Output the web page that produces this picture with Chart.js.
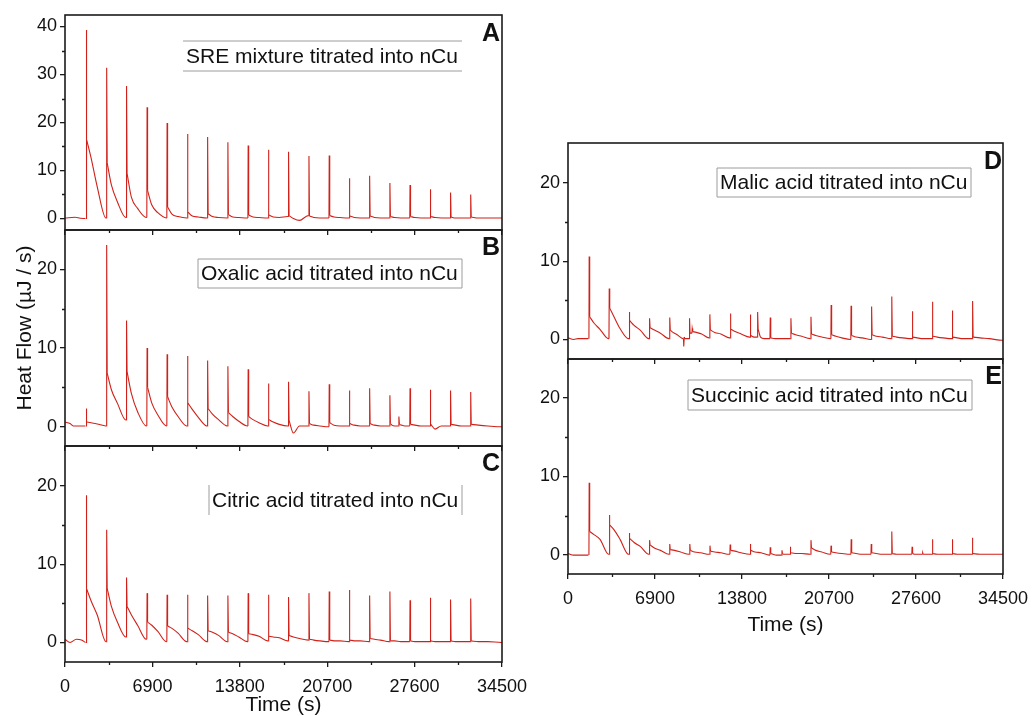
<!DOCTYPE html>
<html>
<head>
<meta charset="utf-8">
<script src="https://cdn.jsdelivr.net/npm/chart.js@4"></script>
<style>
  body { margin: 0; background: #fff; }
  #wrap { position: relative; width: 1034px; height: 716px; }
  #wrap canvas { position: absolute; left: 0; top: 0; pointer-events: none; }
</style>
</head>
<body>
<div id="wrap">
  <canvas id="panelA" width="1034" height="716"></canvas>
  <canvas id="panelB" width="1034" height="716"></canvas>
  <canvas id="panelC" width="1034" height="716"></canvas>
  <canvas id="panelD" width="1034" height="716"></canvas>
  <canvas id="panelE" width="1034" height="716"></canvas>
</div>
<script>
// x axis (time, s) - same for every panel
const xMax = 34500;
const xTickLabels = [0, 6900, 13800, 20700, 27600, 34500];
const yTickLabelsA = [0, 10, 20, 30, 40];
const yTickLabels = [0, 10, 20];

// A: SRE mixture titrated into nCu
const aPreT = [0, 800, 1200, 1620];
const aPreY = [0.1, 0.25, 0.05, 0.0];
const aT = [1660, 3270, 4840, 6460, 8040, 9650, 11240, 12840, 14440, 16040, 17630, 19240, 20840, 22430, 24030, 25630, 27220, 28820, 30420, 32010];
const aPeak = [39.3, 31.4, 27.6, 23.2, 19.9, 17.6, 17.0, 15.9, 15.2, 14.3, 13.9, 13.0, 13.1, 8.4, 8.9, 7.4, 7.0, 6.1, 5.4, 5.0];
const aTail = [16.3, 11.6, 9.4, 5.8, 2.4, 1.3, 1.0, 0.8, 0.7, 0.7, 0.6, 0.5, 0.6, 0.5, 0.5, 0.4, 0.4, 0.4, 0.3, 0.3];
const aMid1 = [12.6, 7.0, 4.4, 2.8, 0.9, 0.5, 0.4, 0.3, 0.3, 0.3, 0.0, 0.2, 0.3, 0.2, 0.2, 0.2, 0.2, 0.2, 0.1, 0.1];
const aMid2 = [6.6, 3.5, 2.1, 1.2, 0.4, 0.3, 0.2, 0.2, 0.2, 0.2, -0.4, 0.1, 0.2, 0.1, 0.1, 0.1, 0.1, 0.1, 0.1, 0.1];
const aEnd = [0.1, 0.2, 0.2, 0.1, 0.1, 0.1, 0.1, 0.1, 0.1, 0.4, 0.6, 0.1, 0.1, 0.1, 0.1, 0.1, 0.1, 0.1, 0.1, 0.1];

// B: Oxalic acid titrated into nCu
const bPreT = [0, 400, 650, 1620];
const bPreY = [0.6, 0.4, 0.1, 0.1];
const bT = [1660, 3270, 4840, 6460, 8040, 9650, 11240, 12840, 14440, 16040, 17630, 19240, 20840, 22430, 24030, 25630, 26340, 27220, 28820, 30420, 32010];
const bPeak = [2.3, 23.1, 13.5, 10.0, 9.2, 9.0, 8.4, 7.7, 7.3, 5.5, 5.7, 4.5, 5.4, 4.6, 4.9, 4.0, 1.3, 4.9, 4.7, 4.6, 4.4];
const bTail = [0.6, 6.8, 7.0, 5.0, 3.8, 3.0, 2.3, 1.8, 1.3, 0.9, 0.8, 0.4, 0.5, 0.4, 0.4, 0.4, 0.3, 0.3, 0.3, 0.3, 0.3];
const bMid1 = [0.5, 4.7, 4.2, 3.0, 2.5, 2.2, 1.6, 1.3, 0.9, 0.6, -0.8, 0.2, 0.2, 0.2, 0.2, 0.2, 0.2, 0.2, -0.3, 0.2, 0.2];
const bMid2 = [0.35, 3.0, 1.9, 1.5, 1.3, 1.2, 0.9, 0.7, 0.5, 0.3, 0.1, 0.1, 0.1, 0.1, 0.1, 0.1, 0.1, 0.1, 0.1, 0.1, 0.1];
const bEnd = [0.1, 0.85, 0.1, 0.1, 0.1, 0.1, 0.1, 0.1, 0.1, 0.1, 0.1, 0.0, 0.1, 0.1, 0.1, 0.1, 0.1, 0.1, 0.1, 0.1, 0.0];

// C: Citric acid titrated into nCu
const cPreT = [0, 400, 900, 1300, 1620];
const cPreY = [0.4, 0.0, 0.4, 0.3, 0.0];
const cT = [1660, 3270, 4840, 6460, 8040, 9650, 11240, 12840, 14440, 16040, 17630, 19240, 20840, 22430, 24030, 25630, 27220, 28820, 30420, 32010];
const cPeak = [18.8, 14.4, 8.3, 6.3, 6.1, 6.1, 6.0, 6.0, 6.3, 6.1, 5.8, 6.3, 6.5, 6.7, 6.0, 6.5, 5.4, 5.7, 5.5, 5.6];
const cTail = [6.8, 6.9, 4.6, 2.6, 2.1, 1.8, 1.5, 1.3, 1.1, 0.8, 0.9, 0.4, 0.3, 0.3, 0.5, 0.2, 0.2, 0.2, 0.2, 0.2];
const cMid1 = [5.3, 4.6, 3.5, 2.2, 1.8, 1.5, 1.3, 1.1, 1.0, 0.7, 0.7, 0.3, 0.2, 0.2, 0.4, 0.2, 0.1, 0.1, 0.1, 0.1];
const cMid2 = [3.5, 2.6, 2.2, 1.4, 1.2, 1.0, 0.9, 0.7, 0.8, 0.6, 0.5, 0.2, 0.2, 0.2, 0.3, 0.1, 0.1, 0.1, 0.1, 0.1];
const cEnd = [0.1, 0.7, 0.4, 0.1, 0.1, 0.1, 0.1, 0.1, 0.2, 0.2, 0.3, 0.1, 0.1, 0.1, 0.1, 0.1, 0.1, 0.1, 0.1, 0.0];

// D: Malic acid titrated into nCu
const dPreT = [0, 450, 800, 1620];
const dPreY = [0.2, 0.0, 0.1, 0.1];
const dT = [1660, 3250, 4840, 6450, 8050, 9160, 9620, 9830, 11230, 12860, 14440, 15020, 16020, 17660, 19250, 20850, 22430, 24060, 25660, 27290, 28880, 30460, 32070];
const dPeak = [10.6, 6.5, 3.5, 2.7, 2.8, -0.9, 2.7, 1.4, 3.2, 3.3, 3.2, 3.5, 2.8, 2.7, 2.9, 4.4, 4.3, 4.2, 5.5, 3.6, 4.8, 3.7, 4.9];
const dTail = [2.9, 4.0, 2.4, 1.5, 1.2, 0.3, 0.8, 1.0, 1.2, 1.3, 0.5, 1.3, 0.2, 0.8, 0.7, 0.6, 0.5, 0.6, 0.4, 0.3, 0.4, 0.3, 0.3];
const dMid1 = [2.1, 2.9, 1.8, 1.2, 0.9, 0.1, 0.8, 0.9, 0.9, 1.0, 0.4, 0.3, 0.1, 0.6, 0.5, 0.4, 0.3, 0.4, 0.3, 0.2, 0.3, 0.2, 0.2];
const dMid2 = [1.3, 1.4, 1.2, 0.8, 0.6, 0.1, 0.8, 0.7, 0.7, 0.7, 0.3, 0.1, 0.1, 0.4, 0.3, 0.2, 0.2, 0.3, 0.2, 0.1, 0.2, 0.1, 0.1];
const dEnd = [0.1, 0.1, 0.1, 0.1, 0.1, 0.1, 0.8, 0.2, 0.2, 0.3, 0.3, 0.1, 0.1, 0.1, 0.1, 0.0, 0.0, 0.1, 0.1, 0.1, 0.1, 0.1, -0.1];

// E: Succinic acid titrated into nCu
const ePreT = [0, 450, 1620];
const ePreY = [0.2, 0.0, 0.0];
const eT = [1660, 3260, 4840, 6450, 8050, 9640, 11240, 12840, 14440, 16020, 16950, 17610, 19250, 20840, 22440, 24030, 25660, 27270, 28110, 28880, 30460, 32050];
const ePeak = [9.2, 5.1, 2.8, 1.9, 1.4, 1.4, 1.2, 1.35, 1.4, 1.0, 0.6, 1.05, 1.9, 1.2, 2.0, 1.4, 3.0, 1.05, 0.3, 2.0, 2.0, 2.2];
const eTail = [3.0, 3.8, 2.1, 1.3, 0.7, 0.6, 0.5, 0.6, 0.6, 0.2, 0.2, 0.3, 0.9, 0.4, 0.3, 0.3, 0.2, 0.2, 0.1, 0.2, 0.2, 0.2];
const eMid1 = [2.6, 3.2, 1.6, 0.9, 0.6, 0.4, 0.4, 0.5, 0.4, 0.1, 0.1, 0.2, 0.6, 0.3, 0.2, 0.2, 0.1, 0.1, 0.1, 0.1, 0.1, 0.1];
const eMid2 = [2.0, 2.0, 1.1, 0.6, 0.4, 0.3, 0.3, 0.3, 0.3, 0.0, 0.1, 0.2, 0.4, 0.2, 0.1, 0.1, 0.1, 0.1, 0.1, 0.1, 0.1, 0.1];
const eEnd = [0.1, 0.1, 0.1, 0.1, 0.1, 0.1, 0.1, 0.1, 0.0, 0.0, 0.1, 0.1, 0.1, 0.1, 0.1, 0.1, 0.1, 0.1, 0.1, 0.1, 0.1, 0.1];

const W = 1034, H = 716;
const lineRed = '#cf2119';
const axisColor = '#1b1b1b';
const fontFamily = '"Liberation Sans", Arial, Helvetica, sans-serif';

// spikes: straight up to the peak and down to the tail level (null splits the injections)
function spikes(preY, t, peak, tail, end) {
    const pts = [];
    for (let i = 0; i < t.length; i++) {
        const before = i === 0 ? preY[preY.length - 1] : end[i - 1];
        pts.push({ x: t[i], y: before }, { x: t[i] + 20, y: peak[i] }, { x: t[i] + 60, y: tail[i] }, { x: t[i] + 61, y: null });
    }
    return pts;
}

// decays: baseline, then tail -> readings -> level before the next injection
function decays(preT, preY, t, tail, mid1, mid2, end) {
    const pts = preT.map((x, i) => ({ x: x, y: preY[i] }));
    pts.push({ x: t[0] - 1, y: null });
    for (let i = 0; i < t.length; i++) {
        const next = i + 1 < t.length ? t[i + 1] : xMax;
        const gap = next - t[i];
        pts.push({ x: t[i] + 60, y: tail[i] });
        pts.push({ x: t[i] + gap * 0.25, y: mid1[i] });
        pts.push({ x: t[i] + gap * 0.55, y: mid2[i] });
        pts.push({ x: next - 40, y: end[i] });
        pts.push({ x: next, y: end[i] });
        pts.push({ x: next + 1, y: null });
    }
    return pts;
}

// frame, short minor ticks, note box, panel letter and axis titles
const panelDecor = {
    id: 'panelDecor',
    afterDatasetsDraw(chart, args, o) {
        const { ctx, chartArea: a, scales } = chart;
        ctx.save();
        ctx.strokeStyle = axisColor;
        ctx.lineWidth = 1.3;
        ctx.beginPath();
        scales.x.ticks.forEach((tk) => {
            if (o.xMajor.includes(tk.value)) return;
            const px = Math.round(scales.x.getPixelForValue(tk.value)) + 0.5;
            ctx.moveTo(px, a.bottom);
            ctx.lineTo(px, a.bottom + 3);
        });
        scales.y.ticks.forEach((tk) => {
            if (o.yMajor.includes(tk.value)) return;
            const py = Math.round(scales.y.getPixelForValue(tk.value)) + 0.5;
            ctx.moveTo(a.left, py);
            ctx.lineTo(a.left - 3, py);
        });
        ctx.stroke();

        ctx.lineWidth = 1.6;
        ctx.strokeRect(a.left, a.top, a.right - a.left, a.bottom - a.top);

        const [x1, y1, x2, y2] = o.box;
        ctx.strokeStyle = '#9c9c9c';
        ctx.lineWidth = 1;
        ctx.beginPath();
        if (o.sides.includes('t')) { ctx.moveTo(x1, y1); ctx.lineTo(x2, y1); }
        if (o.sides.includes('b')) { ctx.moveTo(x1, y2); ctx.lineTo(x2, y2); }
        if (o.sides.includes('l')) { ctx.moveTo(x1, y1); ctx.lineTo(x1, y2); }
        if (o.sides.includes('r')) { ctx.moveTo(x2, y1); ctx.lineTo(x2, y2); }
        ctx.stroke();

        ctx.fillStyle = '#111';
        ctx.font = '21px ' + fontFamily;
        ctx.textAlign = 'left';
        ctx.textBaseline = 'middle';
        ctx.fillText(o.note, x1 + 3, (y1 + y2) / 2 + 1);

        ctx.font = 'bold 25px ' + fontFamily;
        ctx.textAlign = 'right';
        ctx.fillText(o.letter, o.letterAt[0], o.letterAt[1]);

        ctx.font = '21px ' + fontFamily;
        ctx.textAlign = 'center';
        (o.titles || []).forEach((tt) => {
            ctx.save();
            ctx.translate(tt.x, tt.y);
            if (tt.rotate) ctx.rotate(-Math.PI / 2);
            ctx.fillText(tt.text, 0, 0);
            ctx.restore();
        });
        ctx.restore();
    }
};

function makePanel(id, area, yMin, yMax, yLabels, spikePts, decayPts, showX, xH, decor) {
    const yTicks = [];
    for (let v = 0; v <= yLabels[yLabels.length - 1]; v += 5) yTicks.push(v);
    const xTicks = [];
    for (let v = 0; v <= xMax; v += xTickLabels[1] / 2) xTicks.push(v);
    const tickFont = { family: fontFamily, size: 18 };
    const majorOnly = (labels) => (c) => (c.tick && labels.includes(c.tick.value)) ? axisColor : 'rgba(0,0,0,0)';
    const gridFor = (labels) => ({
        drawOnChartArea: false, drawTicks: true, tickLength: 5,
        color: axisColor, tickColor: majorOnly(labels), lineWidth: 1.3
    });
    decor.xMajor = xTickLabels;
    decor.yMajor = yLabels;

    new Chart(document.getElementById(id), {
        type: 'line',
        data: {
            datasets: [
                { data: decayPts, borderColor: lineRed, borderWidth: 1.1, pointRadius: 0, cubicInterpolationMode: 'monotone', spanGaps: false, fill: false },
                { data: spikePts, borderColor: lineRed, borderWidth: 1.1, pointRadius: 0, tension: 0, spanGaps: false, fill: false }
            ]
        },
        options: {
            responsive: false,
            animation: false,
            devicePixelRatio: 1,
            layout: {
                padding: { left: area.l - 60, top: area.t, right: W - area.r, bottom: H - area.b - xH }
            },
            plugins: {
                legend: { display: false },
                tooltip: { enabled: false },
                panelDecor: decor
            },
            scales: {
                x: {
                    type: 'linear',
                    min: 0,
                    max: xMax,
                    afterBuildTicks: (s) => { s.ticks = xTicks.map((v) => ({ value: v })); },
                    afterFit: (s) => { s.height = xH; s.paddingLeft = 0; s.paddingRight = 0; },
                    ticks: {
                        display: showX,
                        autoSkip: false,
                        maxRotation: 0,
                        padding: 9,
                        color: '#111',
                        font: tickFont,
                        callback: (v) => xTickLabels.includes(v) ? String(v) : ''
                    },
                    grid: gridFor(xTickLabels),
                    border: { display: false }
                },
                y: {
                    min: yMin,
                    max: yMax,
                    afterBuildTicks: (s) => { s.ticks = yTicks.map((v) => ({ value: v })); },
                    afterFit: (s) => { s.width = 60; s.paddingTop = 0; s.paddingBottom = 0; },
                    ticks: {
                        padding: 3,
                        color: '#111',
                        font: tickFont,
                        callback: (v) => yLabels.includes(v) ? String(v) : ''
                    },
                    grid: gridFor(yLabels),
                    border: { display: false }
                }
            }
        },
        plugins: [panelDecor]
    });
}

makePanel('panelA', { l: 65, t: 15, r: 502, b: 230 }, -2.4, 42.4, yTickLabelsA,
    spikes(aPreY, aT, aPeak, aTail, aEnd), decays(aPreT, aPreY, aT, aTail, aMid1, aMid2, aEnd), false, 6,
    { note: 'SRE mixture titrated into nCu', box: [183, 41, 462, 71], sides: 'tb', letter: 'A', letterAt: [500, 34] });

makePanel('panelB', { l: 65, t: 230, r: 502, b: 446 }, -2.45, 25, yTickLabels,
    spikes(bPreY, bT, bPeak, bTail, bEnd), decays(bPreT, bPreY, bT, bTail, bMid1, bMid2, bEnd), false, 6,
    { note: 'Oxalic acid titrated into nCu', box: [198, 259, 462, 288], sides: 'tblr', letter: 'B', letterAt: [500, 248],
      titles: [{ text: 'Heat Flow (\u00b5J / s)', x: 25, y: 328, rotate: true }] });

makePanel('panelC', { l: 65, t: 446, r: 502, b: 662 }, -2.5, 25.1, yTickLabels,
    spikes(cPreY, cT, cPeak, cTail, cEnd), decays(cPreT, cPreY, cT, cTail, cMid1, cMid2, cEnd), true, 54,
    { note: 'Citric acid titrated into nCu', box: [209, 485, 462, 515], sides: 'lr', letter: 'C', letterAt: [500, 464],
      titles: [{ text: 'Time (s)', x: 283.5, y: 705 }] });

makePanel('panelD', { l: 568, t: 143, r: 1003, b: 359 }, -2.5, 25.1, yTickLabels,
    spikes(dPreY, dT, dPeak, dTail, dEnd), decays(dPreT, dPreY, dT, dTail, dMid1, dMid2, dEnd), false, 6,
    { note: 'Malic acid titrated into nCu', box: [717, 168, 971, 197], sides: 'tblr', letter: 'D', letterAt: [1002, 162] });

makePanel('panelE', { l: 568, t: 359, r: 1003, b: 574 }, -2.4, 24.9, yTickLabels,
    spikes(ePreY, eT, ePeak, eTail, eEnd), decays(ePreT, ePreY, eT, eTail, eMid1, eMid2, eEnd), true, 60,
    { note: 'Succinic acid titrated into nCu', box: [688, 380, 972, 410], sides: 'tblr', letter: 'E', letterAt: [1002, 377],
      titles: [{ text: 'Time (s)', x: 785.5, y: 625 }] });
</script>
</body>
</html>
